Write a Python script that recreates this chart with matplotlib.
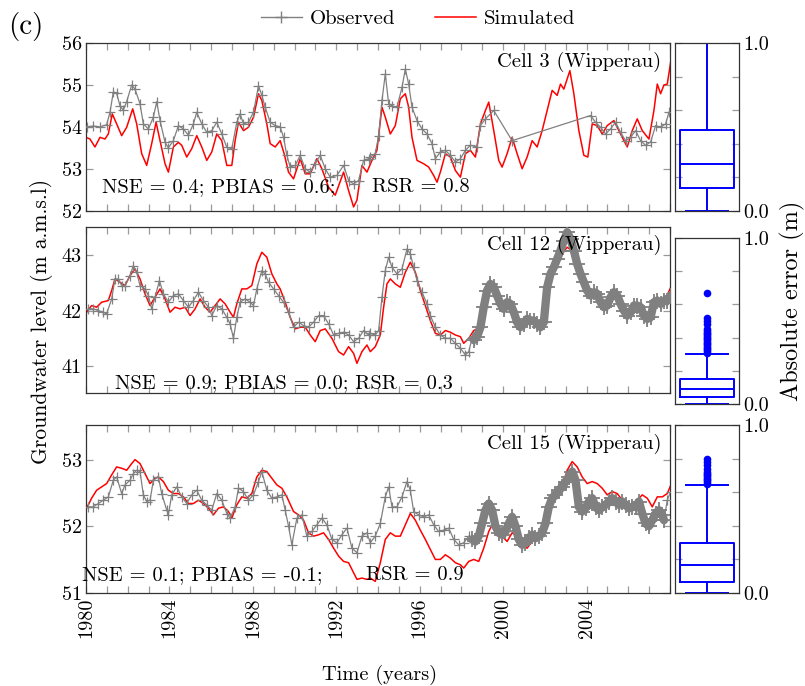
import matplotlib
matplotlib.use('Agg')
import matplotlib.pyplot as plt
import numpy as np
from matplotlib.lines import Line2D
from matplotlib.ticker import MultipleLocator, FixedLocator

plt.rcParams['font.family'] = ['cmr10', 'DejaVu Serif']
plt.rcParams['mathtext.fontset'] = 'cm'
plt.rcParams['axes.unicode_minus'] = False
plt.rcParams['axes.formatter.use_mathtext'] = True

# ---------------- data ----------------
year_ticks = [1980, 1984, 1988, 1992, 1996, 2000, 2004]

cell_labels = ['Cell 3 (Wipperau)', 'Cell 12 (Wipperau)', 'Cell 15 (Wipperau)']
stat_main = ['NSE = 0.4; PBIAS = 0.6;', 'NSE = 0.9; PBIAS = 0.0; RSR = 0.3', 'NSE = 0.1; PBIAS = -0.1;']
stat_rsr = ['RSR = 0.8', None, 'RSR = 0.9']

obs1_t = [1980.03, 1980.35, 1980.67, 1980.99, 1981.15, 1981.31, 1981.47, 1981.63, 1981.79, 1981.95,
          1982.19, 1982.35, 1982.59, 1982.75, 1982.99, 1983.23, 1983.39, 1983.55, 1983.79, 1983.95,
          1984.19, 1984.43, 1984.67, 1984.91, 1985.15, 1985.31, 1985.55, 1985.79, 1986.03, 1986.27,
          1986.51, 1986.75, 1986.99, 1987.23, 1987.39, 1987.55, 1987.79, 1988.03, 1988.27, 1988.43,
          1988.59, 1988.83, 1989.07, 1989.31, 1989.47, 1989.63, 1989.79, 1990.03, 1990.27, 1990.51,
          1990.75, 1990.99, 1991.23, 1991.47, 1991.71, 1992.03, 1992.35, 1992.59, 1992.83, 1993.07,
          1993.31, 1993.55,
          1993.63, 1993.87, 1994.03, 1994.19, 1994.35, 1994.51, 1994.67, 1994.91, 1995.15, 1995.31,
          1995.47, 1995.63, 1995.87, 1996.11, 1996.35, 1996.59, 1996.75, 1996.99, 1997.23, 1997.47,
          1997.71, 1997.95, 1998.19, 1998.43, 1998.75, 1998.91, 1999.15, 1999.55, 2000.43,
          2004.19, 2004.43, 2004.67, 2004.91, 2005.15, 2005.39, 2005.63, 2005.87, 2006.11, 2006.35,
          2006.59, 2006.83, 2007.07, 2007.31, 2007.55, 2007.79, 2007.95]
obs1_v = [54.0, 54.02, 54.0, 54.05, 54.35, 54.83, 54.8, 54.5, 54.4, 54.6,
          55.0, 54.9, 54.55, 54.07, 53.95, 54.23, 54.6, 54.15, 53.63, 53.5,
          53.67, 54.03, 53.95, 53.8, 54.07, 54.35, 54.07, 53.87, 53.91, 54.11,
          53.83, 53.51, 53.48, 54.11, 54.31, 54.07, 54.11, 54.35, 54.98, 54.75,
          54.47, 54.11, 54.03, 54.0, 53.75, 53.32, 53.04, 53.08, 53.32, 53.0,
          52.92, 53.12, 53.32, 53.0, 52.8, 52.84, 53.08, 52.72, 52.64, 52.72,
          53.2, 53.24,
          53.28, 53.36, 53.79, 54.63, 55.26, 54.55, 54.5, 54.47, 54.94, 55.38,
          55.02, 54.47, 54.15, 53.95, 53.83, 53.6, 53.24, 53.4, 53.44, 53.32,
          53.16, 53.24, 53.44, 53.56, 53.52, 54.03, 54.19, 54.39, 53.67,
          54.27, 54.11, 53.99, 53.83, 53.95, 54.11, 53.87, 53.67, 53.75, 53.91,
          53.67, 53.56, 53.64, 54.03, 53.99, 54.07, 54.35]

sim1_t = [1980.0, 1980.19, 1980.43, 1980.67, 1980.91, 1981.07, 1981.26, 1981.47, 1981.71, 1981.95,
          1982.24, 1982.43, 1982.67, 1982.91, 1983.15, 1983.36, 1983.55, 1983.79, 1983.95, 1984.19,
          1984.43, 1984.59, 1984.83, 1985.07, 1985.31, 1985.55, 1985.79, 1986.03, 1986.27, 1986.51,
          1986.75, 1986.99, 1987.15, 1987.31, 1987.55, 1987.79, 1988.03, 1988.27, 1988.43, 1988.67,
          1988.83, 1989.07, 1989.31, 1989.50, 1989.71, 1989.95, 1990.27, 1990.51, 1990.75, 1991.07,
          1991.31, 1991.63, 1991.95, 1992.35, 1992.59, 1992.83, 1992.99, 1993.23, 1993.47,
          1993.71, 1993.95, 1994.19, 1994.35, 1994.59, 1994.83, 1995.07, 1995.31, 1995.47, 1995.63,
          1995.87, 1996.19, 1996.43, 1996.67, 1996.83, 1996.99, 1997.23, 1997.47, 1997.71, 1997.95,
          1998.19, 1998.43, 1998.67, 1998.91, 1999.15, 1999.31, 1999.55, 1999.79, 1999.95, 2000.19,
          2000.43, 2000.67, 2000.91, 2001.15, 2001.39, 2001.63, 2001.87, 2002.11, 2002.35, 2002.59,
          2002.75, 2002.91, 2003.20, 2003.39, 2003.63, 2003.87, 2004.06, 2004.27, 2004.51, 2004.75,
          2004.99, 2005.31, 2005.63, 2005.95, 2006.19, 2006.43, 2006.67, 2006.99, 2007.23, 2007.39,
          2007.55, 2007.71, 2007.87, 2008.03]
sim1_v = [53.75, 53.71, 53.52, 53.75, 53.71, 53.83, 54.31, 54.07, 53.79, 53.99,
          54.43, 54.07, 53.36, 53.08, 53.6, 54.11, 53.67, 53.12, 52.92, 53.52,
          53.63, 53.56, 53.28, 53.48, 53.79, 53.52, 53.2, 53.4, 53.83, 53.67,
          53.08, 53.08, 53.67, 54.11, 53.91, 53.99, 54.23, 54.79, 54.63, 54.07,
          53.6, 53.52, 53.67, 53.36, 52.92, 52.76, 53.24, 52.88, 52.88, 53.24,
          53.0, 52.56, 52.37, 52.92, 52.48, 52.09, 52.25, 53.08, 52.92,
          53.2, 53.44, 54.47, 54.23, 53.83, 54.03, 54.67, 54.79, 54.47, 53.75,
          53.2, 53.12, 53.04, 52.84, 52.68, 52.92, 53.36, 53.28, 52.96, 52.8,
          53.36, 53.44, 53.28, 54.07, 54.39, 54.59, 53.91, 53.2, 53.04, 53.36,
          53.75, 53.36, 53.0, 53.28, 53.67, 53.52, 53.91, 54.39, 54.87, 54.75,
          55.02, 54.9, 55.34, 54.79, 53.91, 53.32, 53.28, 54.07, 54.03, 53.83,
          54.03, 54.15, 53.83, 53.52, 53.91, 54.19, 53.91, 53.71, 54.39, 55.02,
          54.79, 55.0, 55.02, 55.54]

obs2_t = [1980.11, 1980.35, 1980.59, 1980.83, 1980.99, 1981.23, 1981.39, 1981.55, 1981.71, 1981.87,
          1982.11, 1982.27, 1982.43, 1982.59, 1982.83, 1982.99, 1983.15, 1983.31, 1983.52, 1983.71,
          1983.95, 1984.19, 1984.43, 1984.67, 1984.91, 1985.15, 1985.39, 1985.63, 1985.87, 1986.03,
          1986.27, 1986.51, 1986.75, 1986.91, 1987.07, 1987.23, 1987.39, 1987.63, 1987.87, 1988.03,
          1988.19, 1988.43, 1988.59, 1988.75, 1988.99, 1989.23, 1989.47, 1989.71, 1989.95, 1990.19,
          1990.43, 1990.67, 1990.91, 1991.15, 1991.39, 1991.63, 1991.87, 1992.11, 1992.35, 1992.59,
          1992.83, 1993.07, 1993.31, 1993.55,
          1993.63, 1993.87, 1994.03, 1994.19, 1994.35, 1994.51, 1994.67, 1994.91, 1995.15, 1995.39,
          1995.55, 1995.71, 1995.87, 1996.11, 1996.35, 1996.51, 1996.75, 1996.99, 1997.23, 1997.47,
          1997.71, 1997.95, 1998.19, 1998.35, 1998.51,
          1998.59, 1998.75, 1998.91, 1999.07, 1999.23, 1999.39, 1999.55, 1999.71, 1999.87, 2000.03,
          2000.19, 2000.35, 2000.51, 2000.67, 2000.83, 2000.99, 2001.15, 2001.31, 2001.47, 2001.63,
          2001.79, 2001.95, 2002.11, 2002.27, 2002.43, 2002.59, 2002.75, 2002.91, 2003.07, 2003.23,
          2003.39, 2003.55, 2003.71, 2003.87, 2004.03, 2004.19, 2004.35, 2004.51, 2004.67, 2004.83,
          2004.99, 2005.15, 2005.31, 2005.47, 2005.63, 2005.79, 2005.95, 2006.11, 2006.27, 2006.43,
          2006.59, 2006.75, 2006.91, 2007.07, 2007.23, 2007.39, 2007.55, 2007.71, 2007.87, 2008.03]
obs2_v = [42.03, 42.03, 42.0, 41.97, 41.94, 42.21, 42.57, 42.57, 42.45, 42.45,
          42.63, 42.81, 42.69, 42.45, 42.39, 42.27, 42.03, 42.24, 42.54, 42.3,
          42.15, 42.27, 42.3, 42.18, 42.06, 42.18, 42.33, 42.18, 42.06, 41.91,
          42.09, 42.03, 41.88, 41.76, 41.5, 41.88, 42.15, 42.21, 42.15, 42.09,
          42.39, 42.72, 42.66, 42.51, 42.39, 42.27, 42.15, 41.97, 41.7, 41.79,
          41.73, 41.7, 41.79, 41.91, 41.91, 41.76, 41.56, 41.59, 41.61, 41.56,
          41.44, 41.5, 41.64, 41.56,
          41.59, 41.56, 41.64, 42.24, 42.72, 42.96, 42.78, 42.66, 42.75, 43.11,
          43.02, 42.78, 42.54, 42.33, 42.12, 41.91, 41.7, 41.56, 41.5, 41.5,
          41.41, 41.32, 41.2, 41.26, 41.5,
          41.47, 41.53, 41.7, 42.06, 42.36, 42.48, 42.42, 42.27, 42.12, 42.03,
          42.15, 42.12, 41.97, 41.79, 41.7, 41.76, 41.85, 41.82, 41.82, 41.76,
          41.7, 41.79, 42.42, 42.66, 42.78, 42.93, 43.08, 43.26, 43.41, 43.29,
          43.08, 42.84, 42.66, 42.51, 42.36, 42.27, 42.33, 42.3, 42.15, 42.06,
          42.09, 42.24, 42.33, 42.27, 42.12, 42.0, 41.91, 41.97, 42.09, 42.09,
          42.06, 41.91, 41.85, 41.88, 42.15, 42.18, 42.12, 42.18, 42.18, 42.27]

sim2_t = [1980.03, 1980.27, 1980.51, 1980.75, 1981.07, 1981.23, 1981.39, 1981.63, 1981.87, 1982.11,
          1982.35, 1982.59, 1982.83, 1983.07, 1983.31, 1983.55, 1983.79, 1984.03, 1984.27, 1984.51,
          1984.75, 1984.99, 1985.23, 1985.47, 1985.71, 1985.95, 1986.19, 1986.43, 1986.67, 1986.91,
          1987.07, 1987.23, 1987.47, 1987.71, 1987.95, 1988.19, 1988.43, 1988.67, 1988.91, 1989.15,
          1989.31, 1989.55, 1989.79, 1990.03, 1990.27, 1990.51, 1990.75, 1990.99, 1991.23, 1991.47,
          1991.79, 1992.11, 1992.35, 1992.59, 1992.83, 1992.99, 1993.23, 1993.47,
          1993.63, 1993.87, 1994.11, 1994.27, 1994.43, 1994.59, 1994.83, 1995.07, 1995.31, 1995.55,
          1995.79, 1996.03, 1996.27, 1996.51, 1996.75, 1996.99, 1997.23, 1997.47, 1997.71, 1997.95,
          1998.11, 1998.35, 1998.59, 1998.91, 1999.23, 1999.47, 1999.79, 2000.03, 2000.27, 2000.67,
          2000.99, 2001.47, 2001.87, 2002.11, 2002.59, 2003.07, 2003.39, 2003.87, 2004.35, 2004.83,
          2005.31, 2005.95, 2006.43, 2006.91, 2007.23, 2007.71, 2008.11]
sim2_v = [41.97, 42.09, 42.06, 42.15, 42.18, 42.36, 42.57, 42.51, 42.45, 42.63,
          42.75, 42.57, 42.3, 42.09, 42.24, 42.39, 42.21, 41.97, 42.06, 42.03,
          42.06, 41.91, 42.03, 42.21, 42.06, 41.97, 42.09, 42.21, 42.12, 41.97,
          41.88, 42.12, 42.39, 42.39, 42.45, 42.84, 43.05, 42.96, 42.66, 42.48,
          42.39, 42.15, 41.88, 41.67, 41.7, 41.7, 41.56, 41.44, 41.64, 41.67,
          41.5, 41.26, 41.2, 41.35, 41.23, 41.05, 41.26, 41.38,
          41.26, 41.35, 41.56, 42.06, 42.48, 42.57, 42.48, 42.42, 42.69, 42.87,
          42.69, 42.36, 42.09, 41.82, 41.59, 41.56, 41.64, 41.61, 41.56, 41.53,
          41.41, 41.5, 41.64, 41.7, 42.33, 42.45, 42.18, 42.03, 42.12, 41.79,
          41.76, 41.82, 41.82, 42.36, 42.9, 43.14, 43.05, 42.51, 42.3, 42.06,
          42.3, 41.91, 42.06, 41.88, 42.12, 42.15, 42.48]

obs3_t = [1980.11, 1980.35, 1980.59, 1980.83, 1981.07, 1981.31, 1981.47, 1981.71, 1981.87, 1982.11,
          1982.27, 1982.43, 1982.59, 1982.75, 1982.91, 1983.07, 1983.23, 1983.47, 1983.63, 1983.87,
          1983.95, 1984.11, 1984.35, 1984.59, 1984.83, 1985.07, 1985.31, 1985.55, 1985.79, 1986.03,
          1986.27, 1986.51, 1986.75, 1986.91, 1987.15, 1987.31, 1987.55, 1987.79, 1988.03, 1988.27,
          1988.43, 1988.67, 1988.91, 1989.15, 1989.39, 1989.55, 1989.71, 1989.87, 1990.11, 1990.35,
          1990.59, 1990.83, 1991.07, 1991.31, 1991.55, 1991.79, 1992.03, 1992.27, 1992.51, 1992.75,
          1992.99, 1993.23, 1993.47,
          1993.63, 1993.87, 1994.11, 1994.35, 1994.51, 1994.67, 1994.91, 1995.15, 1995.39, 1995.55,
          1995.71, 1995.95, 1996.19, 1996.43, 1996.67, 1996.91, 1997.15, 1997.39, 1997.63, 1997.87,
          1998.11, 1998.35,
          1998.51, 1998.67, 1998.83, 1998.99, 1999.15, 1999.31, 1999.47, 1999.63, 1999.79, 1999.95,
          2000.11, 2000.27, 2000.43, 2000.59, 2000.75, 2000.91, 2001.07, 2001.23, 2001.39, 2001.55,
          2001.71, 2001.87, 2002.03, 2002.19, 2002.35, 2002.51, 2002.67, 2002.83, 2002.99, 2003.15,
          2003.31, 2003.47, 2003.63, 2003.79, 2003.95, 2004.11, 2004.27, 2004.43, 2004.59, 2004.75,
          2004.91, 2005.07, 2005.23, 2005.39, 2005.55, 2005.71, 2005.87, 2006.03, 2006.19, 2006.35,
          2006.51, 2006.67, 2006.83, 2006.99, 2007.15, 2007.31, 2007.47, 2007.63, 2007.71,
          2007.87, 2008.03]
obs3_v = [52.29, 52.29, 52.34, 52.39, 52.44, 52.69, 52.74, 52.49, 52.62, 52.69,
          52.79, 52.84, 52.82, 52.47, 52.37, 52.39, 52.69, 52.74, 52.49, 52.24,
          52.17, 52.47, 52.59, 52.44, 52.34, 52.47, 52.54, 52.39, 52.32, 52.24,
          52.49, 52.39, 52.19, 52.12, 52.29, 52.57, 52.52, 52.39, 52.47, 52.67,
          52.82, 52.54, 52.42, 52.44, 52.47, 52.24, 52.0, 51.72, 52.12, 52.17,
          51.85, 51.92, 52.02, 52.12, 52.02, 51.8, 51.75, 51.87, 51.97, 51.67,
          51.6, 51.85, 51.9,
          51.75, 51.85, 52.04, 52.44, 52.59, 52.29, 52.29, 52.44, 52.67, 52.54,
          52.22, 52.17, 52.14, 52.17, 52.02, 51.92, 51.94, 51.97, 51.8, 51.72,
          51.75, 51.85,
          51.8, 51.77, 51.85, 52.04, 52.24, 52.34, 52.24, 52.0, 51.9, 51.87,
          51.92, 52.04, 52.14, 52.0, 51.8, 51.72, 51.75, 51.82, 51.87, 51.82,
          51.85, 51.9, 52.04, 52.29, 52.42, 52.47, 52.54, 52.59, 52.67, 52.74,
          52.82, 52.69, 52.29, 52.22, 52.27, 52.37, 52.42, 52.29, 52.24, 52.29,
          52.32, 52.37, 52.42, 52.37, 52.32, 52.37, 52.32, 52.27, 52.29, 52.29,
          52.37, 52.19, 52.04, 52.0, 52.09, 52.19, 52.24, 52.17, 52.09,
          52.39, 52.52]

sim3_t = [1980.03, 1980.27, 1980.51, 1980.75, 1980.99, 1981.23, 1981.47, 1981.71, 1981.95, 1982.19,
          1982.35, 1982.59, 1982.83, 1983.07, 1983.31, 1983.47, 1983.71, 1983.95, 1984.19, 1984.43,
          1984.67, 1984.91, 1985.15, 1985.39, 1985.63, 1985.87, 1986.11, 1986.35, 1986.59, 1986.83,
          1986.99, 1987.23, 1987.47, 1987.71, 1987.95, 1988.19, 1988.43, 1988.67, 1988.91, 1989.15,
          1989.39, 1989.63, 1989.95, 1990.19, 1990.43, 1990.67, 1990.91, 1991.15, 1991.39, 1991.63,
          1991.87, 1992.11, 1992.35, 1992.59, 1992.75, 1992.99, 1993.23, 1993.47,
          1993.63, 1993.87, 1994.11, 1994.35, 1994.59, 1994.83, 1995.07, 1995.31, 1995.55, 1995.79,
          1996.03, 1996.27, 1996.51, 1996.75, 1996.99, 1997.23, 1997.47, 1997.71, 1997.95, 1998.11,
          1998.35, 1998.59, 1998.83, 1999.07, 1999.31, 1999.47, 1999.71, 1999.95, 2000.19, 2000.43,
          2000.67, 2000.91, 2001.15, 2001.39, 2001.63, 2001.87, 2002.11, 2002.35, 2002.59, 2002.83,
          2003.07, 2003.31, 2003.55, 2003.79, 2004.03, 2004.27, 2004.51, 2004.75, 2004.99, 2005.23,
          2005.47, 2005.71, 2005.95, 2006.19, 2006.43, 2006.67, 2006.91, 2007.15, 2007.39, 2007.63,
          2007.87, 2008.11]
sim3_v = [52.27, 52.42, 52.54, 52.59, 52.64, 52.77, 52.89, 52.87, 52.84, 52.94,
          53.0, 52.94, 52.79, 52.64, 52.72, 52.74, 52.67, 52.54, 52.49, 52.49,
          52.44, 52.34, 52.34, 52.39, 52.34, 52.27, 52.17, 52.27, 52.29, 52.22,
          52.12, 52.32, 52.44, 52.42, 52.49, 52.74, 52.84, 52.82, 52.72, 52.62,
          52.57, 52.44, 52.22, 52.17, 52.09, 51.9, 51.85, 51.87, 51.9, 51.8,
          51.67, 51.55, 51.47, 51.45, 51.35, 51.2, 51.22, 51.2,
          51.22, 51.17, 51.45, 51.8, 51.9, 51.85, 51.85, 52.02, 52.19, 52.09,
          51.94, 51.8, 51.65, 51.5, 51.5, 51.57, 51.52, 51.45, 51.42, 51.37,
          51.47, 51.5, 51.47, 51.67, 51.92, 52.02, 52.0, 51.85, 51.77, 51.9,
          51.85, 51.7, 51.67, 51.77, 51.8, 51.87, 52.19, 52.39, 52.52, 52.59,
          52.84, 52.97, 52.89, 52.74, 52.64, 52.67, 52.64, 52.57, 52.47, 52.52,
          52.49, 52.39, 52.29, 52.32, 52.39, 52.47, 52.42, 52.29, 52.44, 52.44,
          52.49, 52.67]

# absolute-error box plot statistics (m)
box_whislo = [0.0, 0.0, 0.0]
box_q1 = [0.133, 0.046, 0.064]
box_med = [0.278, 0.09, 0.166]
box_q3 = [0.48, 0.15, 0.296]
box_whishi = [1.0, 0.30, 0.64]
box_out1 = []
box_out2 = [0.31, 0.32, 0.33, 0.34, 0.35, 0.36, 0.37, 0.38, 0.39, 0.40, 0.41, 0.42,
            0.43, 0.44, 0.45, 0.48, 0.50, 0.52, 0.67]
box_out3 = [0.65, 0.66, 0.67, 0.68, 0.69, 0.70, 0.71, 0.72, 0.74, 0.76, 0.78, 0.80]

# ---------------- layout ----------------
W, H = 805, 686
fig = plt.figure(figsize=(W / 100, H / 100), dpi=100)

def fr(x0, y0, x1, y1):
    return [x0 / W, 1 - y1 / H, (x1 - x0) / W, (y1 - y0) / H]

main_rects = [fr(86, 43, 670, 210.7), fr(86, 226.7, 670, 393.3), fr(86, 425, 670, 592.7)]
box_rects = [fr(675, 43, 739, 210.7), fr(675, 237.7, 739, 404.3), fr(675, 425, 739, 592.7)]
ylims = [(52, 56), (40.51, 43.51), (51, 53.52)]
yticks = [[52, 53, 54, 55, 56], [41, 42, 43], [51, 52, 53]]
dense = [None, (1998.55, 2008.1), (1998.45, 2007.75)]

obs_t = [obs1_t, obs2_t, obs3_t]
obs_v = [obs1_v, obs2_v, obs3_v]
sim_t = [sim1_t, sim2_t, sim3_t]
sim_v = [sim1_v, sim2_v, sim3_v]
box_out = [box_out1, box_out2, box_out3]

FS = 14.8
TFS = 14.5
GREY = '#808080'
TICKC = '#9a9a9a'
nse_pos = [(0.027, 0.14), (0.05, 0.06), (-0.007, 0.105)]
rsr_pos = [0.489, None, 0.479]

for i in range(3):
    ax = fig.add_axes(main_rects[i])
    ax.plot(sim_t[i], sim_v[i], color='red', lw=1.1, zorder=2)
    t = np.array(obs_t[i]); v = np.array(obs_v[i])
    ax.plot(t, v, color=GREY, lw=0.9, marker='+', ms=7.5, mew=0.9, zorder=3)
    if dense[i] is not None:
        m = (t >= dense[i][0]) & (t <= dense[i][1])
        ax.plot(t[m], v[m], color=GREY, lw=6, solid_capstyle='round', zorder=3)
        ax.plot(t[m], v[m], color=GREY, lw=0, marker='+', ms=11, mew=1.3, zorder=3)
    ax.set_xlim(1980, 2008)
    ax.set_ylim(*ylims[i])
    ax.set_yticks(yticks[i])
    ax.set_yticklabels([str(y) for y in yticks[i]], fontsize=TFS)
    ax.xaxis.set_major_locator(FixedLocator(year_ticks))
    ax.xaxis.set_minor_locator(MultipleLocator(1))
    ax.tick_params(which='both', direction='in', top=True, right=True, color=TICKC,
                   length=5, width=0.9)
    ax.tick_params(axis='y', pad=3)
    if i == 2:
        ax.set_xticklabels([str(y) for y in year_ticks], rotation=90, fontsize=TFS)
    else:
        ax.set_xticklabels([])
    for s in ax.spines.values():
        s.set_color('#333333'); s.set_linewidth(0.9)
    ax.text(0.985, 0.89, cell_labels[i], transform=ax.transAxes, ha='right', va='center',
            fontsize=FS, zorder=5)
    ax.text(nse_pos[i][0], nse_pos[i][1], stat_main[i], transform=ax.transAxes, ha='left',
            va='center', fontsize=FS, zorder=5)
    if stat_rsr[i] is not None:
        ax.text(rsr_pos[i], nse_pos[i][1], stat_rsr[i], transform=ax.transAxes, ha='left',
                va='center', fontsize=FS, zorder=5)

    bx = fig.add_axes(box_rects[i])
    stats = [dict(med=box_med[i], q1=box_q1[i], q3=box_q3[i], whislo=box_whislo[i],
                  whishi=box_whishi[i], fliers=np.array(box_out[i]))]
    bc = 'blue'
    bx.bxp(stats, positions=[1], widths=0.84, capwidths=0.65, showfliers=True,
           boxprops=dict(color=bc, lw=1.4), whiskerprops=dict(color=bc, lw=1.4),
           capprops=dict(color=bc, lw=1.4), medianprops=dict(color=bc, lw=1.4),
           flierprops=dict(marker='o', markerfacecolor=bc, markeredgecolor=bc, markersize=4.5))
    bx.set_xlim(0.5, 1.5)
    bx.set_ylim(0, 1)
    bx.set_xticks([])
    bx.set_yticks([0, 0.2, 0.4, 0.6, 0.8, 1.0])
    bx.set_yticklabels(['0.0', '', '', '', '', '1.0'], fontsize=TFS)
    bx.tick_params(axis='y', direction='in', left=True, right=True, labelleft=False,
                   labelright=True, color=TICKC, length=5, width=0.9, pad=3)
    for s in bx.spines.values():
        s.set_color('#333333'); s.set_linewidth(0.9)

fig.text(0.051, 0.532, 'Groundwater level (m a.m.s.l)', rotation=90, ha='center',
         va='center', fontsize=15.5)
fig.text(0.984, 0.561, 'Absolute error (m)', rotation=90, ha='center', va='center', fontsize=17.5)
fig.text(0.472, 0.016, 'Time (years)', ha='center', va='center', fontsize=14.7)
fig.text(0.010, 0.962, '(c)', ha='left', va='center', fontsize=21)

handles = [Line2D([], [], color=GREY, lw=1, marker='+', ms=9, mew=1),
           Line2D([], [], color='red', lw=1.1)]
fig.legend(handles, ['Observed', 'Simulated'], loc='center', bbox_to_anchor=(0.519, 0.972),
           ncol=2, frameon=False, fontsize=15, handlelength=2.0, columnspacing=1.9,
           handletextpad=0.35)

fig.savefig('out.png', dpi=100)
